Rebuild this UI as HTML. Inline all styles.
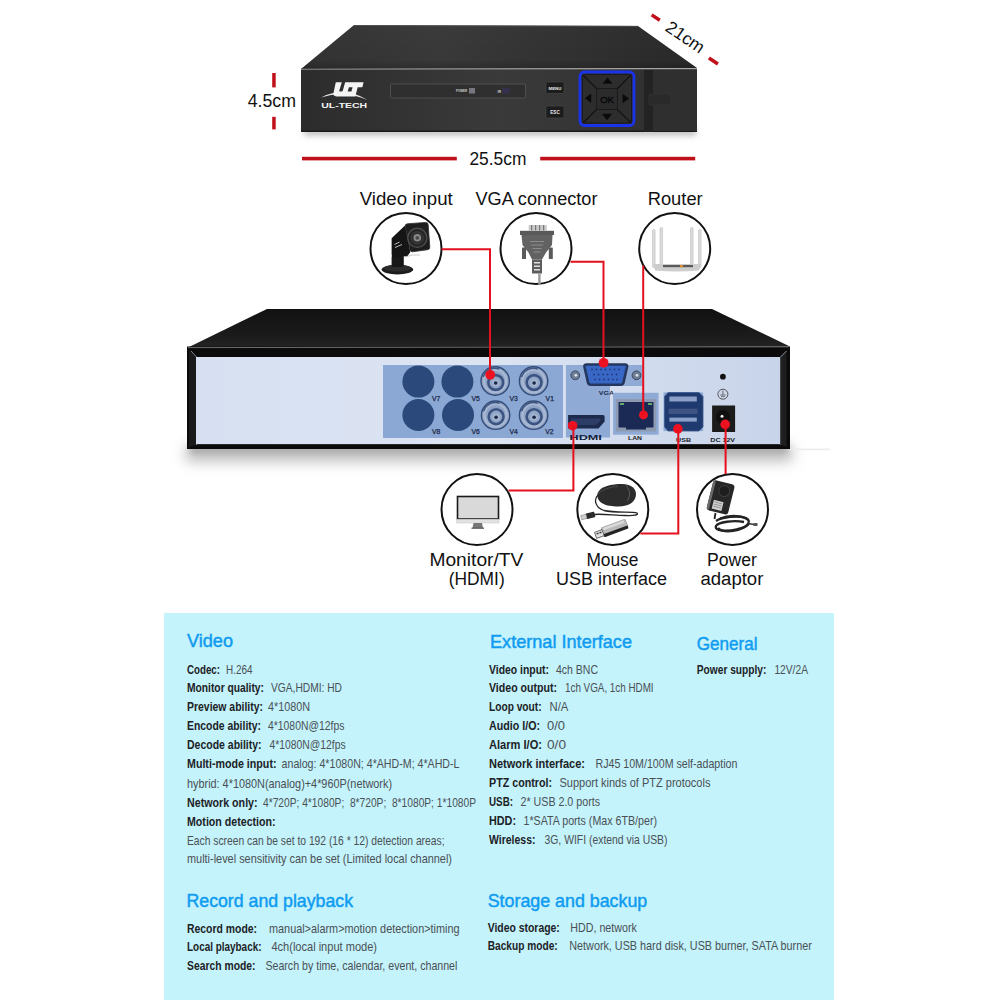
<!DOCTYPE html>
<html><head><meta charset="utf-8">
<style>
html,body{margin:0;padding:0;background:#fff;width:1000px;height:1000px;overflow:hidden}
svg{display:block;font-family:"Liberation Sans",sans-serif}
.lb{font-weight:bold;fill:#1c2226;font-size:13px}
.vl{fill:#4a5055;font-size:13px}
.hd{fill:#0e9bf1;stroke:#0e9bf1;stroke-width:0.45px;font-size:18.5px}
.cap{fill:#111;font-size:18px}
</style></head>
<body>
<svg width="1000" height="1000" viewBox="0 0 1000 1000">
<defs>
  <linearGradient id="gTop1" x1="0" y1="0" x2="1" y2="0">
    <stop offset="0" stop-color="#343434"/><stop offset="0.35" stop-color="#3b3b3b"/><stop offset="1" stop-color="#2b2b2b"/>
  </linearGradient>
  <linearGradient id="gTop1b" x1="0" y1="0" x2="0" y2="1">
    <stop offset="0" stop-color="#000" stop-opacity="0"/><stop offset="0.8" stop-color="#000" stop-opacity="0.05"/><stop offset="1" stop-color="#000" stop-opacity="0.22"/>
  </linearGradient>
  <linearGradient id="gFront1" x1="0" y1="0" x2="1" y2="0">
    <stop offset="0" stop-color="#2c2c2c"/><stop offset="0.5" stop-color="#3a3a3a"/><stop offset="1" stop-color="#2e2e2e"/>
  </linearGradient>
  <linearGradient id="gTop2" x1="0" y1="0" x2="0" y2="1">
    <stop offset="0" stop-color="#111"/><stop offset="0.7" stop-color="#1b1b1b"/><stop offset="1" stop-color="#242424"/>
  </linearGradient>
  <linearGradient id="gShadow" x1="0" y1="0" x2="0" y2="1">
    <stop offset="0" stop-color="#9a9a9a"/><stop offset="0.35" stop-color="#d8d8d8"/><stop offset="1" stop-color="#fff" stop-opacity="0"/>
  </linearGradient>
  <linearGradient id="gShadow1" x1="0" y1="0" x2="0" y2="1">
    <stop offset="0" stop-color="#bdbdbd"/><stop offset="1" stop-color="#fff" stop-opacity="0"/>
  </linearGradient>
  <linearGradient id="gPanel" x1="0" y1="0" x2="1" y2="0">
    <stop offset="0" stop-color="#d7e0f2"/><stop offset="0.5" stop-color="#dce4f2"/><stop offset="1" stop-color="#c8d4ea"/>
  </linearGradient>
  <filter id="blur6" x="-20%" y="-200%" width="140%" height="500%"><feGaussianBlur stdDeviation="6"/></filter>
  <g id="bnc">
    <circle cx="0" cy="0" r="14.2" fill="#8ea3c6" stroke="#344c78" stroke-width="1.4"/>
    <circle cx="0" cy="0" r="11.2" fill="none" stroke="#a9b8d2" stroke-width="2.2"/>
    <path d="M-12,-4 A12.5,12.5 0 0 1 4,-12" stroke="#3e5684" stroke-width="1.5" fill="none"/>
    <circle cx="0.5" cy="1.5" r="7.4" fill="#92a6c8" stroke="#3b5482" stroke-width="2.6"/>
    <circle cx="0.5" cy="1.8" r="3.6" fill="#a3b4d0"/>
    <circle cx="0.5" cy="2" r="1.8" fill="#1b2846"/>
  </g>
  <filter id="blur3" x="-20%" y="-200%" width="140%" height="500%"><feGaussianBlur stdDeviation="3"/></filter>
  <filter id="blur7" x="-20%" y="-200%" width="140%" height="500%"><feGaussianBlur stdDeviation="7"/></filter>
</defs>

<!-- ============ TOP DVR ============ -->
<g id="dvr1">
  <rect x="304" y="129" width="392" height="6" fill="#b0b0b0" filter="url(#blur3)"/>
  <polygon points="354,25 638,26 697,68 301,69" fill="url(#gTop1)"/>
  <polygon points="354,25 638,26 697,68 301,69" fill="url(#gTop1b)"/>
  <line x1="354" y1="25.5" x2="638" y2="26.3" stroke="#555" stroke-width="0.8"/>
  <rect x="301" y="69" width="396" height="63" fill="url(#gFront1)"/>
  <line x1="301" y1="69.3" x2="697" y2="68.8" stroke="#8c8c8c" stroke-width="1.1"/>
  <rect x="301" y="130.5" width="396" height="1.5" fill="#1a1a1a"/>
  <!-- logo -->
  <path d="M321,97.6 Q344,85.5 367.5,100 Q344,89.8 321,97.6 Z" fill="#e6e6e6"/>
  <path d="M335.8,82.3 L363.6,82.3 L362.3,87.2 L357.7,87.2 L355.3,96.4 L336.5,96.4 Q332.6,96.4 333.6,92.6 Z" fill="#f4f4f4"/>
  <path d="M341.9,82 L345.2,82 L342.9,90.2 Q342.5,91.6 341.2,91.6 Q339,91.6 339.3,90.4 Z" fill="#2e2e2e"/>
  <path d="M348.9,87.2 L352.6,87.2 L351.4,91.6 L347.7,91.6 Z" fill="#2e2e2e"/>
  <text x="321.2" y="108.2" font-size="8" font-weight="bold" fill="#f4f4f4" textLength="46" lengthAdjust="spacingAndGlyphs">UL-TECH</text>
  <!-- slot -->
  <rect x="390.5" y="84" width="135" height="14" rx="1" fill="#2f2f2f" stroke="#4e4e4e" stroke-width="1"/>
  <text x="456" y="92.4" font-size="3.3" font-weight="bold" fill="#d0d0d0" textLength="11" lengthAdjust="spacingAndGlyphs">POWER</text>
  <rect x="469" y="88" width="6" height="5.5" fill="#77777f"/>
  <text x="497.5" y="92.6" font-size="3.6" font-weight="bold" fill="#d0d0d0">IR</text>
  <rect x="502" y="88" width="8" height="6" fill="#35304a"/>
  <!-- buttons -->
  <rect x="546" y="82" width="18" height="11.5" rx="1.5" fill="#1c1c1c" stroke="#4a4a4a" stroke-width="0.6"/>
  <text x="555" y="89.8" font-size="4.4" font-weight="bold" fill="#e8e8e8" text-anchor="middle">MENU</text>
  <rect x="546" y="106" width="18" height="12" rx="1.5" fill="#1c1c1c" stroke="#4a4a4a" stroke-width="0.6"/>
  <text x="555" y="114" font-size="4.6" font-weight="bold" fill="#e8e8e8" text-anchor="middle">ESC</text>
  <!-- d-pad -->
  <rect x="580" y="72" width="54" height="53.5" rx="4.5" fill="#2c2c2c" stroke="#1a32ea" stroke-width="2.8"/>
  <rect x="582.5" y="74.5" width="49" height="48.5" rx="3" fill="#2d2d2d" stroke="#161616" stroke-width="0.8"/>
  <g stroke="#121212" stroke-width="1.1">
    <line x1="583" y1="75" x2="597" y2="89"/><line x1="631" y1="75" x2="617" y2="89"/>
    <line x1="583" y1="123" x2="597" y2="109"/><line x1="631" y1="123" x2="617" y2="109"/>
  </g>
  <rect x="596.5" y="88.5" width="21" height="21" rx="2.5" fill="#2b2b2b" stroke="#1a1a1a" stroke-width="1"/>
  <text x="607" y="102.8" font-size="9.5" fill="#0c0c0c" stroke="#0c0c0c" stroke-width="0.55" text-anchor="middle">OK</text>
  <polygon points="607.5,77.5 612.5,83.8 602.5,83.8" fill="#0a0a0a"/>
  <polygon points="607,120.2 612,113.8 602,113.8" fill="#0a0a0a"/>
  <polygon points="584.8,98.2 591.2,93.5 591.2,102.8" fill="#0a0a0a"/>
  <polygon points="629,98.5 622.6,93.8 622.6,103.2" fill="#0a0a0a"/>
  <!-- side band -->
  <rect x="644" y="70" width="9" height="62" fill="#232323"/>
  <rect x="653" y="70" width="44" height="61" fill="#2f2f2f"/>
  <rect x="649" y="94" width="22" height="11" rx="2" fill="#2a2a2a" stroke="#3a3a3a" stroke-width="0.5"/>
</g>


<!-- ============ DIMENSIONS ============ -->
<g fill="#c0111b">
  <rect x="272.2" y="73" width="3.5" height="14.4"/>
  <rect x="272.2" y="116.8" width="3.5" height="12.6"/>
  <rect x="302" y="156.8" width="154.8" height="3.6"/>
  <rect x="540.2" y="156.8" width="155" height="3.6"/>
</g>
<g stroke="#c0111b" stroke-width="3.5">
  <line x1="651.7" y1="14.9" x2="659.8" y2="20.3"/>
  <line x1="708.9" y1="58" x2="717.9" y2="64"/>
</g>
<g class="cap">
  <text x="247.7" y="107" textLength="48.3" lengthAdjust="spacingAndGlyphs">4.5cm</text>
  <text x="469.4" y="165.2" textLength="57" lengthAdjust="spacingAndGlyphs">25.5cm</text>
  <text x="0" y="0" text-anchor="middle" font-size="17.5" transform="translate(682,42) rotate(34.5)">21cm</text>
</g>

<!-- ============ SPEC PANEL ============ -->
<rect x="164" y="613" width="670" height="387" fill="#c4f3fb"/>

<!-- ============ REAR DVR ============ -->
<g id="dvr2">
  <rect x="186" y="446" width="606" height="15" fill="#b8b8b8" filter="url(#blur7)"/>
  <rect x="190" y="447" width="598" height="5" fill="#999" filter="url(#blur3)"/>
  <polygon points="267,309 712,309 790,346.5 187,348" fill="url(#gTop2)"/>
  <rect x="187" y="346.5" width="603" height="102.5" fill="#0b0b0b"/>
  <line x1="188" y1="347.6" x2="789" y2="346.8" stroke="#6d6d6d" stroke-width="1"/>
  <rect x="196" y="357" width="584.5" height="88" fill="url(#gPanel)"/>
  <polygon points="189,349.5 196,357 196,445 189,447" fill="#1a1a1a"/>
  <line x1="191" y1="351" x2="196.5" y2="357" stroke="#9aa4b8" stroke-width="0.8"/>
  <polygon points="780.5,357 786.5,351 786.5,447 780.5,444.5" fill="#1e1e1e"/>
  <line x1="780.5" y1="357" x2="786.5" y2="351" stroke="#aab4c8" stroke-width="0.8"/>
  <line x1="780.8" y1="357" x2="780.8" y2="444.5" stroke="#3a3f4a" stroke-width="0.6"/>
  <rect x="790" y="448.6" width="40" height="1.6" fill="#ececec"/>
  <line x1="196.5" y1="444.5" x2="780" y2="444.5" stroke="#2a2a2a" stroke-width="1"/>
  <!-- BNC panel -->
  <rect x="383" y="365" width="180" height="73" fill="#8ba7d3"/>
  <g fill="#2b4a7b">
    <circle cx="418.4" cy="381.6" r="16"/><circle cx="457.4" cy="381.6" r="16"/>
    <circle cx="418.4" cy="415" r="16"/><circle cx="458" cy="415" r="16"/>
  </g>

  <use href="#bnc" transform="translate(495.2,381)"/>
  <use href="#bnc" transform="translate(533.6,381)"/>
  <use href="#bnc" transform="translate(495.6,415.2)"/>
  <use href="#bnc" transform="translate(533.6,415.2)"/>
  <g font-size="6.8" fill="#1b2c4c" stroke="#1b2c4c" stroke-width="0.25">
    <text x="432" y="400.6">V7</text><text x="471.5" y="400.6">V5</text>
    <text x="509.4" y="400.6">V3</text><text x="545.6" y="400.6">V1</text>
    <text x="432" y="434.4">V8</text><text x="471.5" y="434.4">V6</text>
    <text x="509.4" y="434.4">V4</text><text x="545.2" y="434.4">V2</text>
  </g>
  <!-- VGA / HDMI panel -->
  <path d="M565.9,364.9 L642.5,364.9 L642.5,386 L610,386 L610,437.4 L565.9,437.4 Z" fill="#8eaad5"/>
  <path d="M586.5,364.5 L625,364.5 Q627.5,364.5 627,367 L623.5,382.5 Q623,384.8 620.5,384.8 L591,384.8 Q588.5,384.8 588,382.5 L584.5,367 Q584,364.5 586.5,364.5 Z" fill="#3867c6" stroke="#25375e" stroke-width="2.6"/>
  <g fill="#1f3a7a">
    <circle cx="592" cy="369.5" r="0.9"/><circle cx="596.5" cy="369.5" r="0.9"/><circle cx="601" cy="369.5" r="0.9"/><circle cx="605.5" cy="369.5" r="0.9"/><circle cx="610" cy="369.5" r="0.9"/><circle cx="614.5" cy="369.5" r="0.9"/><circle cx="619" cy="369.5" r="0.9"/>
    <circle cx="594" cy="374.5" r="0.9"/><circle cx="598.5" cy="374.5" r="0.9"/><circle cx="603" cy="374.5" r="0.9"/><circle cx="607.5" cy="374.5" r="0.9"/><circle cx="612" cy="374.5" r="0.9"/><circle cx="616.5" cy="374.5" r="0.9"/>
    <circle cx="595" cy="379.5" r="0.9"/><circle cx="599.5" cy="379.5" r="0.9"/><circle cx="604" cy="379.5" r="0.9"/><circle cx="608.5" cy="379.5" r="0.9"/><circle cx="613" cy="379.5" r="0.9"/><circle cx="617" cy="379.5" r="0.9"/>
  </g>
  <circle cx="575.3" cy="375.3" r="4.4" fill="#6e7d94" stroke="#3d4a60" stroke-width="1"/>
  <circle cx="575.8" cy="375.3" r="1.4" fill="#dfe6f0"/>
  <circle cx="636.5" cy="375.3" r="4.4" fill="#6e7d94" stroke="#3d4a60" stroke-width="1"/>
  <circle cx="637" cy="375.3" r="1.4" fill="#dfe6f0"/>
  <text x="598.7" y="395.2" font-size="6" font-weight="bold" fill="#1f2f50" textLength="15.3" lengthAdjust="spacingAndGlyphs">VGA</text>
  <path d="M568.1,414.9 L603,414.9 Q604.6,414.9 604.6,416.5 L604.6,421.5 L598.5,428.4 L568.1,428.4 Z" fill="#1c2a4c"/>
  <path d="M571,418.5 L600.5,418.5 L600.5,421 L596,425 L571,425 Z" fill="#2c3d66"/>
  <text x="569.5" y="439.8" font-size="7.6" font-weight="bold" fill="#13203c" textLength="32.4" lengthAdjust="spacingAndGlyphs">HDMI</text>
  <!-- LAN -->
  <rect x="613.1" y="392.8" width="45.5" height="41.9" fill="#8eaad5"/>
  <rect x="615.8" y="399.1" width="40.4" height="32.4" fill="#8d9ab2"/>
  <path d="M618.5,402 L653.5,402 L653.5,427.5 L646,427.5 L646,429.5 L626,429.5 L626,427.5 L618.5,427.5 Z" fill="#1b2a55"/>
  <rect x="620" y="403" width="4" height="2" fill="#5fae6a"/>
  <rect x="648" y="403" width="4" height="2" fill="#5fae6a"/>
  <text x="628" y="440.4" font-size="6" font-weight="bold" fill="#1c1c28" textLength="14" lengthAdjust="spacingAndGlyphs">LAN</text>
  <!-- USB -->
  <rect x="663.5" y="392.4" width="39.6" height="38.7" fill="#8eaad5"/>
  <path d="M668,392.5 L699,392.5 L703,396.5 L703,427 L699,431 L668,431 L664.5,427 L664.5,396.5 Z" fill="#1e3a6e" stroke="#3e5a8e" stroke-width="0.8"/>
  <rect x="669.4" y="396.5" width="27.4" height="5" fill="#8aa0c8"/>
  <rect x="668.5" y="408.6" width="29" height="5.4" fill="#3e5484"/>
  <rect x="669.4" y="417.6" width="27.4" height="4" fill="#8aa0c8"/>
  <text x="676.1" y="442" font-size="6" font-weight="bold" fill="#1c1c28" textLength="15" lengthAdjust="spacingAndGlyphs">USB</text>
  <!-- power -->
  <circle cx="722.9" cy="376.7" r="2.9" fill="#111"/>
  <circle cx="722.9" cy="394.2" r="5" fill="none" stroke="#555" stroke-width="1"/>
  <path d="M722.9,390.5 L722.9,395 M720.2,395 L725.6,395 M721,396.6 L724.8,396.6" stroke="#555" stroke-width="0.8"/>
  <rect x="712.1" y="405.5" width="23" height="26.5" fill="#1b1b1b"/>
  <circle cx="723" cy="417" r="7" fill="#0f0f0f"/>
  <circle cx="722" cy="416.3" r="1.5" fill="#f0f0f0"/>
  <text x="710.3" y="442.2" font-size="6" font-weight="bold" fill="#1c1c28" textLength="24.8" lengthAdjust="spacingAndGlyphs">DC 12V</text>
  <!-- red dots -->
  <g fill="#ee1122">
    <circle cx="490.2" cy="374.8" r="4.9"/>
    <circle cx="603.6" cy="362.8" r="4.9"/>
    <circle cx="643.5" cy="414.9" r="4.5"/>
    <circle cx="572.6" cy="425.7" r="4.8"/>
    <circle cx="677.9" cy="428.9" r="4.8"/>
    <circle cx="725.2" cy="424.4" r="4.8"/>
  </g>
</g>

<!-- ============ CIRCLES ============ -->
<g fill="#fff" stroke="#111" stroke-width="2">
  <circle cx="406" cy="248.5" r="35.5"/>
  <circle cx="536" cy="248.5" r="35.5"/>
  <circle cx="674.7" cy="248.5" r="35.5"/>
  <circle cx="477" cy="509.5" r="35.5"/>
  <circle cx="612.8" cy="509.4" r="35.5"/>
  <circle cx="732.5" cy="509.4" r="35.5"/>
</g>


<!-- ============ ICONS ============ -->
<g id="icons">
  <!-- camera -->
  <ellipse cx="397.4" cy="269.6" rx="15.8" ry="4.8" fill="#1c1c1c"/>
  <ellipse cx="397.4" cy="268.2" rx="13.5" ry="3.4" fill="#2c2c2c"/>
  <rect x="391.6" y="255" width="12.2" height="12" rx="2.5" fill="#181818"/>
  <path d="M391.6,238.2 L405.3,225.2 L410.3,251.9 L407.4,256.2 L393.8,256.9 Q391.6,256.9 391.6,254 Z" fill="#151515"/>
  <path d="M407.5,223.8 L425.5,222.4 Q428,222.2 428.2,224.8 L429.8,247 Q430,249.5 427.5,249.7 L412.5,251.8 Q410.3,252 410,249.7 L405.3,226.5 Q405,224 407.5,223.8 Z" fill="#1d1d1d" stroke="#2e2e2e" stroke-width="0.8"/>
  <circle cx="417.3" cy="237.8" r="9.6" fill="#262626" stroke="#505050" stroke-width="1.3"/>
  <circle cx="417.3" cy="237.8" r="6" fill="#2e2e2e" stroke="#3e3e3e" stroke-width="1"/>
  <circle cx="417.3" cy="237.8" r="3.8" fill="#8a8a8a"/>
  <circle cx="417.3" cy="237.8" r="1.9" fill="#4a4a4a"/>
  <path d="M394.5,244.5 L399.5,242 M395,247.5 L402,244.5" stroke="#cfcfcf" stroke-width="0.9"/>
  <path d="M405,257 Q412,254 420,255" stroke="#bdbdbd" stroke-width="0.8" fill="none"/>
  <!-- VGA connector -->
  <rect x="528.7" y="225" width="18" height="5.5" fill="#c8c8c8"/>
  <g fill="#777"><rect x="531" y="225" width="1.2" height="5.5"/><rect x="535" y="225" width="1.2" height="5.5"/><rect x="539" y="225" width="1.2" height="5.5"/><rect x="543" y="225" width="1.2" height="5.5"/></g>
  <rect x="520" y="230.8" width="34" height="4.2" fill="#595959"/>
  <polygon points="521.5,235 552.5,235 552,245 546,252.5 542,259.5 532,259.5 528.5,252.5 522.5,245" fill="#626262"/>
  
  <rect x="522" y="247.5" width="4" height="11.5" rx="0.6" fill="#5a5a5a"/><rect x="548.8" y="247.5" width="4" height="11.5" rx="0.6" fill="#5a5a5a"/>
  <g fill="#8c8c8c"><rect x="530" y="241" width="14" height="1"/><rect x="531" y="244.5" width="12" height="1"/><rect x="532.5" y="248" width="9" height="1"/><rect x="533.5" y="251.5" width="7" height="1"/></g>
  <rect x="532" y="259.5" width="10" height="14" fill="#5c5c5c"/>
  <g fill="#ddd"><rect x="534" y="262" width="6" height="1.5"/><rect x="534" y="265.5" width="6" height="1.5"/><rect x="534" y="269" width="6" height="1.5"/></g>
  <rect x="538.2" y="273.5" width="2.4" height="11" fill="#9a9a9a"/>
  <!-- router -->
  <g fill="#dcdcdc" stroke="#bdbdbd" stroke-width="0.6">
    <rect x="652.5" y="229.5" width="2.6" height="38" rx="1"/>
    <rect x="660" y="227.5" width="2.6" height="38" rx="1"/>
    <rect x="690.5" y="227.5" width="2.6" height="38" rx="1"/>
    <rect x="698.5" y="229.5" width="2.6" height="38" rx="1"/>
  </g>
  <path d="M653,264 L701,264 L699,270.5 Q676,272.5 655,270.5 Z" fill="#cdcdcd"/>
  <rect x="663" y="265" width="30" height="2.2" fill="#5a5a5a"/>
  <rect x="680" y="265" width="3" height="2.2" fill="#e08a2a"/>
  <!-- monitor -->
  <rect x="457.5" y="496.5" width="41" height="22.5" fill="#d9d9d9" stroke="#1a1a1a" stroke-width="1.6"/>
  <rect x="456.8" y="519.2" width="42.2" height="3.8" fill="#e2e2e2" stroke="#c4c4c4" stroke-width="0.5"/>
  <polygon points="473.5,523 482,523 483,528 472.5,528" fill="#777"/>
  <rect x="471.5" y="527.6" width="12.5" height="1.2" fill="#555"/>
  <!-- mouse -->
  <path d="M597.5,493.5 C600,486 612,484 622,484 C632,484.5 636,489 636,494 C636,501 630,506.5 618,506.5 C606,506.5 596,503 597.5,493.5 Z" fill="#2c2c2c"/>
  <path d="M598,494 C604,488 612,487 618,486.5" stroke="#4a4a4a" stroke-width="1" fill="none"/>
  <path d="M626,485.5 C630,490 631,496 627,501" stroke="#666" stroke-width="0.8" fill="none"/>
  <path d="M598,495 C593,500 596,508 604,510.5 C615,513 632,511.5 637,513 C639,515 634,516 625,515.5 C612,515 600,513.5 594,514.5" stroke="#262626" stroke-width="1.3" fill="none"/>
  <g transform="rotate(-14 589 516)">
    <rect x="586" y="513" width="9" height="5.5" rx="0.8" fill="#2a2a2a"/>
    <rect x="581" y="513.6" width="5.5" height="4.3" fill="#d2d2d2" stroke="#777" stroke-width="0.5"/>
  </g>
  <g transform="rotate(-20 614 529)">
    <rect x="602" y="523.5" width="26" height="10" rx="1.2" fill="#232323"/>
    <rect x="602" y="523.2" width="26" height="7" rx="1" fill="#b9b9b9"/>
    <rect x="604" y="524.2" width="22" height="2.4" fill="#dadada"/>
    <rect x="594.5" y="525.5" width="8" height="6.4" fill="#e2e2e2" stroke="#444" stroke-width="0.7"/>
    <rect x="596" y="527" width="2" height="1.4" fill="#333"/><rect x="599" y="527" width="2" height="1.4" fill="#333"/>
  </g>
  <!-- power adaptor -->
  <g transform="rotate(14 721 498)">
    <rect x="709.5" y="482" width="22" height="31" rx="3" fill="#272727"/>
    <rect x="709.5" y="483" width="2.5" height="29" rx="1" fill="#6a6a6a"/>
    <circle cx="722.5" cy="490.5" r="5.5" fill="#1e1e1e" stroke="#3c3c3c" stroke-width="1"/>
    <rect x="714.5" y="501.5" width="10" height="9" fill="#cfcfcf"/>
    <g fill="#8a8a8a"><rect x="715.5" y="503" width="8" height="0.8"/><rect x="715.5" y="505.2" width="8" height="0.8"/><rect x="715.5" y="507.4" width="8" height="0.8"/></g>
  </g>
  <path d="M715.5,513 L714.5,519" stroke="#222" stroke-width="1.8"/>
  <g fill="none" stroke="#242424" stroke-width="2.3">
    <path d="M716,521 C722,517 738,515 746,518 C752,521 748,527 738,529 C726,532 714,531 716,526 C718,522 734,520 744,522"/>
    <path d="M718,528 C724,534 742,531 749,524"/>
    <path d="M720,518.5 C730,514.5 744,515.5 748,520"/>
  </g>
  <path d="M748,523.5 L754,524.5" stroke="#333" stroke-width="1.6"/>
  <rect x="753.5" y="523" width="4" height="3" fill="#555"/>
</g>

<!-- ============ RED LINES ============ -->
<g fill="none" stroke="#e5101d" stroke-width="2">
  <polyline points="441.5,249.3 490,249.3 490,374"/>
  <polyline points="570.5,261.7 603.5,261.7 603.5,362"/>
  <polyline points="643.2,265.5 643.2,414"/>
  <polyline points="573.4,425.6 573.4,490.4 508.6,490.4"/>
  <polyline points="678.3,428.8 678.3,533.6 640.4,533.6"/>
  <polyline points="725.6,424 725.6,474"/>
</g>

<!-- ============ CAPTIONS ============ -->
<g class="cap">
  <text x="359.7" y="204.7" textLength="93" lengthAdjust="spacingAndGlyphs">Video input</text>
  <text x="475.5" y="204.7" textLength="122" lengthAdjust="spacingAndGlyphs">VGA connector</text>
  <text x="647.7" y="204.7" textLength="55" lengthAdjust="spacingAndGlyphs">Router</text>
  <text x="429.4" y="566" textLength="94" lengthAdjust="spacingAndGlyphs">Monitor/TV</text>
  <text x="448.7" y="585.4" textLength="56" lengthAdjust="spacingAndGlyphs">(HDMI)</text>
  <text x="586.4" y="566" textLength="52" lengthAdjust="spacingAndGlyphs">Mouse</text>
  <text x="556" y="585.4" textLength="111" lengthAdjust="spacingAndGlyphs">USB interface</text>
  <text x="706.9" y="566" textLength="50" lengthAdjust="spacingAndGlyphs">Power</text>
  <text x="700.4" y="585.4" textLength="63" lengthAdjust="spacingAndGlyphs">adaptor</text>
</g>

<!-- ============ SPECS ============ -->
<g id="specs">
  <text class="hd" x="187" y="647" textLength="46" lengthAdjust="spacingAndGlyphs">Video</text>
  <text class="hd" x="490" y="647.6" textLength="142" lengthAdjust="spacingAndGlyphs">External Interface</text>
  <text class="hd" x="696.8" y="649.6" textLength="60.8" lengthAdjust="spacingAndGlyphs">General</text>
  <text class="hd" x="186.5" y="907" textLength="166.5" lengthAdjust="spacingAndGlyphs">Record and playback</text>
  <text class="hd" x="487.7" y="907.3" textLength="159.6" lengthAdjust="spacingAndGlyphs">Storage and backup</text>
  <text class="lb" x="187" y="673.6" textLength="33" lengthAdjust="spacingAndGlyphs">Codec:</text>
  <text class="vl" x="226" y="673.6" textLength="26.4" lengthAdjust="spacingAndGlyphs" xml:space="preserve">H.264</text>
  <text class="lb" x="187" y="692.4" textLength="77" lengthAdjust="spacingAndGlyphs">Monitor quality:</text>
  <text class="vl" x="271" y="692.4" textLength="71" lengthAdjust="spacingAndGlyphs" xml:space="preserve">VGA,HDMI: HD</text>
  <text class="lb" x="187" y="711.2" textLength="76" lengthAdjust="spacingAndGlyphs">Preview ability:</text>
  <text class="vl" x="268" y="711.2" textLength="42" lengthAdjust="spacingAndGlyphs" xml:space="preserve">4*1080N</text>
  <text class="lb" x="187" y="730" textLength="74" lengthAdjust="spacingAndGlyphs">Encode ability:</text>
  <text class="vl" x="268" y="730" textLength="76.4" lengthAdjust="spacingAndGlyphs" xml:space="preserve">4*1080N@12fps</text>
  <text class="lb" x="187" y="749" textLength="74.6" lengthAdjust="spacingAndGlyphs">Decode ability:</text>
  <text class="vl" x="269.6" y="749" textLength="76.0" lengthAdjust="spacingAndGlyphs" xml:space="preserve">4*1080N@12fps</text>
  <text class="lb" x="187" y="768" textLength="89.5" lengthAdjust="spacingAndGlyphs">Multi-mode input:</text>
  <text class="vl" x="281.6" y="768" textLength="177.9" lengthAdjust="spacingAndGlyphs" xml:space="preserve">analog: 4*1080N; 4*AHD-M; 4*AHD-L</text>
  <text class="vl" x="187" y="787.5" textLength="205" lengthAdjust="spacingAndGlyphs" xml:space="preserve">hybrid: 4*1080N(analog)+4*960P(network)</text>
  <text class="lb" x="187" y="807" textLength="70.6" lengthAdjust="spacingAndGlyphs">Network only:</text>
  <text class="vl" x="263" y="807" textLength="213" lengthAdjust="spacingAndGlyphs" xml:space="preserve">4*720P; 4*1080P;  8*720P;  8*1080P; 1*1080P</text>
  <text class="lb" x="187" y="825.5" textLength="88.6" lengthAdjust="spacingAndGlyphs">Motion detection:</text>
  <text class="vl" x="187" y="844.5" textLength="257.5" lengthAdjust="spacingAndGlyphs" xml:space="preserve">Each screen can be set to 192 (16 * 12) detection areas;</text>
  <text class="vl" x="187" y="863.4" textLength="265" lengthAdjust="spacingAndGlyphs" xml:space="preserve">multi-level sensitivity can be set (Limited local channel)</text>
  <text class="lb" x="489" y="673.6" textLength="60" lengthAdjust="spacingAndGlyphs">Video input:</text>
  <text class="vl" x="556" y="673.6" textLength="42" lengthAdjust="spacingAndGlyphs" xml:space="preserve">4ch BNC</text>
  <text class="lb" x="489" y="692.4" textLength="68" lengthAdjust="spacingAndGlyphs">Video output:</text>
  <text class="vl" x="565" y="692.4" textLength="88.6" lengthAdjust="spacingAndGlyphs" xml:space="preserve">1ch VGA, 1ch HDMI</text>
  <text class="lb" x="489" y="711.2" textLength="52.6" lengthAdjust="spacingAndGlyphs">Loop vout:</text>
  <text class="vl" x="549.6" y="711.2" textLength="18.8" lengthAdjust="spacingAndGlyphs" xml:space="preserve">N/A</text>
  <text class="lb" x="489" y="730" textLength="51" lengthAdjust="spacingAndGlyphs">Audio I/O:</text>
  <text class="vl" x="547" y="730" textLength="18" lengthAdjust="spacingAndGlyphs" xml:space="preserve">0/0</text>
  <text class="lb" x="489" y="749" textLength="53" lengthAdjust="spacingAndGlyphs">Alarm I/O:</text>
  <text class="vl" x="547" y="749" textLength="19" lengthAdjust="spacingAndGlyphs" xml:space="preserve">0/0</text>
  <text class="lb" x="489" y="768" textLength="96" lengthAdjust="spacingAndGlyphs">Network interface:</text>
  <text class="vl" x="595.5" y="768" textLength="141.9" lengthAdjust="spacingAndGlyphs" xml:space="preserve">RJ45 10M/100M self-adaption</text>
  <text class="lb" x="489" y="787" textLength="63" lengthAdjust="spacingAndGlyphs">PTZ control:</text>
  <text class="vl" x="559.5" y="787" textLength="150.9" lengthAdjust="spacingAndGlyphs" xml:space="preserve">Support kinds of PTZ protocols</text>
  <text class="lb" x="489" y="806" textLength="24" lengthAdjust="spacingAndGlyphs">USB:</text>
  <text class="vl" x="520.5" y="806" textLength="79.5" lengthAdjust="spacingAndGlyphs" xml:space="preserve">2* USB 2.0 ports</text>
  <text class="lb" x="489" y="825" textLength="27" lengthAdjust="spacingAndGlyphs">HDD:</text>
  <text class="vl" x="523.5" y="825" textLength="133.5" lengthAdjust="spacingAndGlyphs" xml:space="preserve">1*SATA ports (Max 6TB/per)</text>
  <text class="lb" x="489" y="844" textLength="46.5" lengthAdjust="spacingAndGlyphs">Wireless:</text>
  <text class="vl" x="544.5" y="844" textLength="123.0" lengthAdjust="spacingAndGlyphs" xml:space="preserve">3G, WIFI (extend via USB)</text>
  <text class="lb" x="696.8" y="674.4" textLength="69.6" lengthAdjust="spacingAndGlyphs">Power supply:</text>
  <text class="vl" x="774.4" y="674.4" textLength="33.6" lengthAdjust="spacingAndGlyphs" xml:space="preserve">12V/2A</text>
  <text class="lb" x="187" y="932.5" textLength="70" lengthAdjust="spacingAndGlyphs">Record mode:</text>
  <text class="vl" x="269" y="932.5" textLength="190.5" lengthAdjust="spacingAndGlyphs" xml:space="preserve">manual&gt;alarm&gt;motion detection&gt;timing</text>
  <text class="lb" x="187" y="951" textLength="74.5" lengthAdjust="spacingAndGlyphs">Local playback:</text>
  <text class="vl" x="271.4" y="951" textLength="105.6" lengthAdjust="spacingAndGlyphs" xml:space="preserve">4ch(local input mode)</text>
  <text class="lb" x="187" y="970" textLength="68.5" lengthAdjust="spacingAndGlyphs">Search mode:</text>
  <text class="vl" x="265.4" y="970" textLength="192.0" lengthAdjust="spacingAndGlyphs" xml:space="preserve">Search by time, calendar, event, channel</text>
  <text class="lb" x="487.7" y="931.8" textLength="72.1" lengthAdjust="spacingAndGlyphs">Video storage:</text>
  <text class="vl" x="570.3" y="931.8" textLength="66.5" lengthAdjust="spacingAndGlyphs" xml:space="preserve">HDD, network</text>
  <text class="lb" x="487.7" y="950" textLength="70.0" lengthAdjust="spacingAndGlyphs">Backup mode:</text>
  <text class="vl" x="569.3" y="950" textLength="242.5" lengthAdjust="spacingAndGlyphs" xml:space="preserve">Network, USB hard disk, USB burner, SATA burner</text>
</g>

</svg>
</body></html>
